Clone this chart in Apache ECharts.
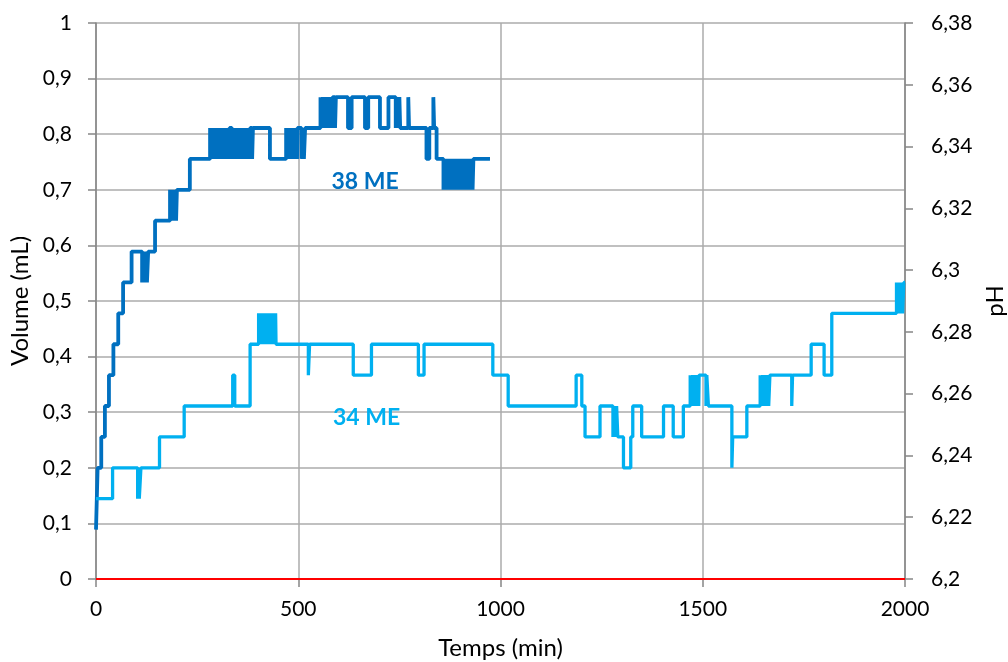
<!DOCTYPE html>
<html>
<head>
<meta charset="utf-8">
<script src="https://cdn.jsdelivr.net/npm/echarts@6/dist/echarts.min.js"></script>
<style>
html,body{margin:0;padding:0;background:#fff;}
#chart{width:1008px;height:662px;}
</style>
</head>
<body>
<div id="chart"></div>
<script>
// ---- Data (time in min, pH values on right axis) ----
var xTicks = [0, 500, 1000, 1500, 2000];
var volumeTicks = [0, 0.1, 0.2, 0.3, 0.4, 0.5, 0.6, 0.7, 0.8, 0.9, 1];
var phTicks = [6.2, 6.22, 6.24, 6.26, 6.28, 6.3, 6.32, 6.34, 6.36, 6.38];

var volumeSeries = [[0, 0], [2000, 0]];

var ph38ME = [
  [0,6.216],[2,6.226],[4,6.236],[13,6.246],[22,6.256],[32,6.266],[43,6.276],[55,6.286],[67,6.296],[88,6.306],
  [114,6.296],[117,6.306],[120,6.296],[123,6.306],[126,6.296],[129,6.306],
  [146,6.316],
  [183,6.326],[186,6.316],[189,6.326],[192,6.316],[195,6.326],[198,6.316],[200,6.326],
  [232,6.336],
  [282,6.346],[285,6.336],[288,6.346],[291,6.336],[294,6.346],[297,6.336],[300,6.346],[303,6.336],[306,6.346],
  [309,6.336],[312,6.346],[315,6.336],[318,6.346],[321,6.336],[324,6.346],[327,6.336],[330,6.346],
  [336,6.336],[339,6.346],[342,6.336],[345,6.346],[348,6.336],[351,6.346],[354,6.336],[357,6.346],[360,6.336],
  [363,6.346],[366,6.336],[369,6.346],[372,6.336],[375,6.346],[378,6.336],[381,6.346],
  [386,6.336],[388,6.346],
  [430,6.336],
  [470,6.346],[473,6.336],[476,6.346],[479,6.336],[482,6.346],[485,6.336],[488,6.346],[491,6.336],[494,6.346],[497,6.336],[498,6.346],
  [508,6.336],[511,6.346],[514,6.336],[517,6.346],
  [555,6.356],[558,6.346],[561,6.356],[564,6.346],[567,6.356],[570,6.346],[573,6.356],[576,6.346],[579,6.356],[582,6.346],[585,6.356],
  [591,6.346],[593,6.356],
  [623,6.346],[632,6.356],[665,6.346],[673,6.356],[702,6.346],[723,6.356],
  [741,6.346],[744,6.356],[747,6.346],[750,6.356],[752,6.346],
  [772,6.356],[774,6.346],
  [817,6.336],[824,6.346],[834,6.356],[836,6.346],[842,6.336],
  [859,6.326],[862,6.336],[865,6.326],[868,6.336],[871,6.326],[874,6.336],[877,6.326],[880,6.336],[883,6.326],
  [886,6.336],[889,6.326],[892,6.336],[895,6.326],[898,6.336],[901,6.326],[904,6.336],[907,6.326],[910,6.336],
  [913,6.326],[916,6.336],[919,6.326],[922,6.336],[925,6.326],[928,6.336],[931,6.326],[933,6.336],
  [974,6.336]
];

var ph34ME = [
  [0,6.226],[41,6.236],[103,6.226],[105,6.236],[107,6.226],[111,6.236],[157,6.246],[218,6.256],
  [338,6.266],[343,6.256],[381,6.276],
  [402,6.286],[405,6.276],[408,6.286],[411,6.276],[414,6.286],[417,6.276],[420,6.286],[423,6.276],[426,6.286],
  [429,6.276],[432,6.286],[435,6.276],[438,6.286],[441,6.276],[444,6.286],[445,6.276],
  [525,6.266],[528,6.276],[636,6.266],[681,6.276],[797,6.266],[811,6.276],[981,6.266],[1019,6.256],
  [1187,6.266],[1201,6.256],[1209,6.246],[1246,6.256],
  [1278,6.246],[1281,6.256],[1284,6.246],[1287,6.256],[1290,6.246],
  [1304,6.236],[1322,6.246],[1327,6.256],[1349,6.246],[1403,6.256],[1427,6.246],[1452,6.256],
  [1469,6.266],[1472,6.256],[1475,6.266],[1478,6.256],[1481,6.266],[1484,6.256],[1487,6.266],[1490,6.256],[1491,6.266],
  [1508,6.256],[1510,6.266],[1514,6.256],
  [1572,6.236],[1574,6.246],[1609,6.256],
  [1642,6.266],[1645,6.256],[1648,6.266],[1651,6.256],[1654,6.266],[1657,6.256],[1660,6.266],[1663,6.256],[1666,6.266],
  [1720,6.256],[1722,6.266],
  [1768,6.276],[1800,6.266],[1819,6.286],
  [1979,6.296],[1982,6.286],[1985,6.296],[1988,6.286],[1991,6.296],[1994,6.286],[1997,6.296],[2000,6.296]
];

var label38 = {name: '38 ME', coord: [665, 6.3288]};
var label34 = {name: '34 ME', coord: [669, 6.2524]};

// ---- Chart ----
var FONT = 'Lato';
var axisGray = '#868686';
var gridGray = '#ABABAB';

function fmt(v, d) {
  return String(+v.toFixed(d)).replace('.', ',');
}

var chart = echarts.init(document.getElementById('chart'), null, {renderer: 'canvas'});
chart.setOption({
  animation: false,
  backgroundColor: '#fff',
  grid: {left: 96, right: 103, top: 23, bottom: 83, containLabel: false, outerBoundsMode: 'none'},
  textStyle: {fontFamily: FONT},
  xAxis: {
    type: 'value', min: xTicks[0], max: xTicks[xTicks.length - 1], interval: xTicks[1] - xTicks[0],
    name: 'Temps (min)', nameLocation: 'middle', nameGap: 57,
    nameTextStyle: {fontFamily: FONT, fontSize: 24, color: '#000'},
    axisLine: {show: true, onZero: false, lineStyle: {color: axisGray, width: 1.5}},
    axisTick: {show: true, inside: false, length: 8, lineStyle: {color: axisGray, width: 1.5}},
    axisLabel: {fontFamily: FONT, fontSize: 21, color: '#000', margin: 20, formatter: function (v) { return String(v); }},
    splitLine: {show: true, lineStyle: {color: gridGray, width: 1.5}}
  },
  yAxis: [
    {
      type: 'value', min: volumeTicks[0], max: volumeTicks[volumeTicks.length - 1], interval: 0.1,
      name: 'Volume (mL)', nameLocation: 'middle', nameGap: 63, nameRotate: 90,
      nameTextStyle: {fontFamily: FONT, fontSize: 24, color: '#000'},
      axisLine: {show: true, lineStyle: {color: axisGray, width: 1.5}},
      axisTick: {show: true, inside: false, length: 8, lineStyle: {color: axisGray, width: 1.5}},
      axisLabel: {fontFamily: FONT, fontSize: 21, color: '#000', margin: 24, formatter: function (v) { return fmt(v, 1); }},
      splitLine: {show: true, lineStyle: {color: gridGray, width: 1.5}}
    },
    {
      type: 'value', position: 'right', min: phTicks[0], max: phTicks[phTicks.length - 1], interval: 0.02,
      name: 'pH', nameLocation: 'middle', nameGap: 76, nameRotate: 90,
      nameTextStyle: {fontFamily: FONT, fontSize: 24, color: '#000'},
      axisLine: {show: true, lineStyle: {color: axisGray, width: 1.5}},
      axisTick: {show: true, inside: false, length: 8, lineStyle: {color: axisGray, width: 1.5}},
      axisLabel: {fontFamily: FONT, fontSize: 21, color: '#000', margin: 26, formatter: function (v) { return fmt(v, 2); }},
      splitLine: {show: false}
    }
  ],
  series: [
    {
      name: '38 ME', type: 'line', yAxisIndex: 1, step: 'end', data: ph38ME,
      showSymbol: false, symbol: 'none',
      lineStyle: {color: '#0070C0', width: 3.8},
      markPoint: {
        symbol: 'circle', symbolSize: 1, itemStyle: {color: 'rgba(0,0,0,0)'},
        label: {show: true, position: 'inside', formatter: '{b}', fontFamily: FONT, fontWeight: 'bold', fontSize: 23, color: '#0070C0'},
        data: [label38]
      }
    },
    {
      name: '34 ME', type: 'line', yAxisIndex: 1, step: 'end', data: ph34ME,
      showSymbol: false, symbol: 'none',
      lineStyle: {color: '#00B0F0', width: 3.3},
      markPoint: {
        symbol: 'circle', symbolSize: 1, itemStyle: {color: 'rgba(0,0,0,0)'},
        label: {show: true, position: 'inside', formatter: '{b}', fontFamily: FONT, fontWeight: 'bold', fontSize: 23, color: '#00B0F0'},
        data: [label34]
      }
    },
    {
      name: 'Volume', type: 'line', yAxisIndex: 0, data: volumeSeries,
      showSymbol: false, symbol: 'none',
      lineStyle: {color: '#FF0000', width: 2}
    }
  ]
});
</script>
</body>
</html>
